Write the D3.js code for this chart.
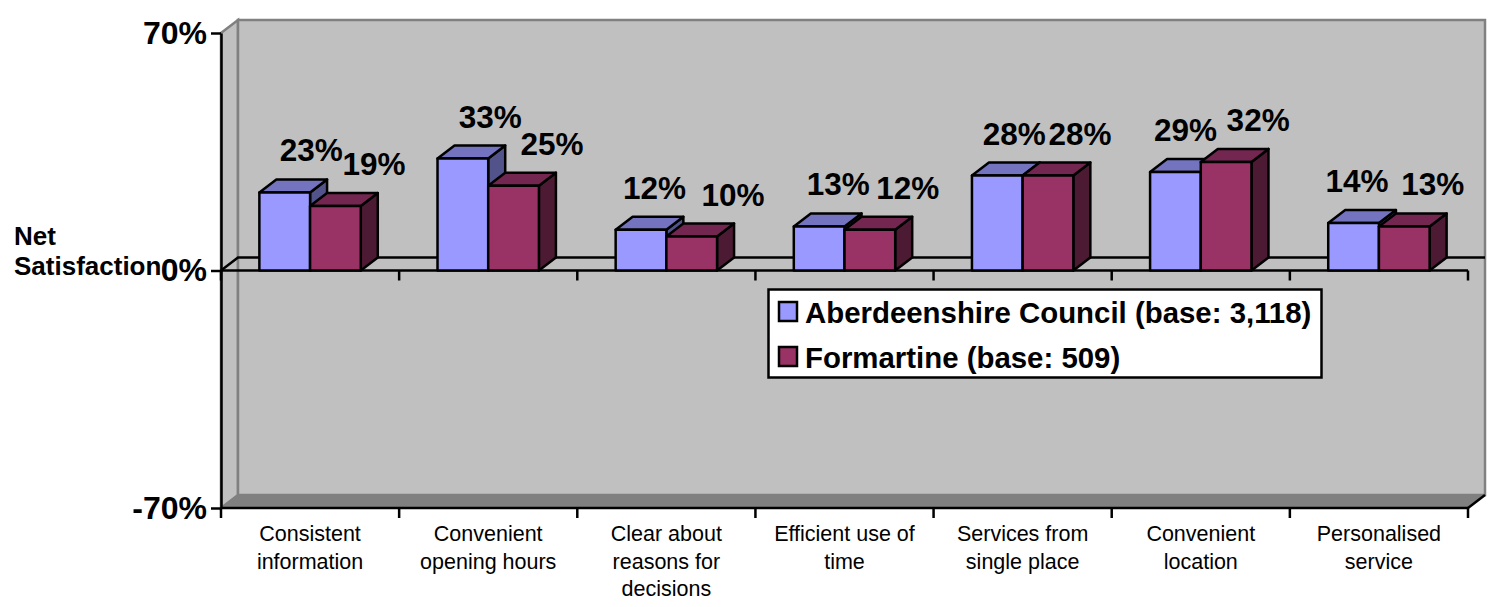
<!DOCTYPE html>
<html><head><meta charset="utf-8">
<style>html,body{margin:0;padding:0;background:#fff}svg{display:block}text{font-family:"Liberation Sans",Arial,sans-serif;fill:#000}</style>
<script src="https://cdn.jsdelivr.net/npm/d3@7"></script></head><body>
<script>
const categories=["Consistent\ninformation","Convenient\nopening hours","Clear about\nreasons for\ndecisions","Efficient use of\ntime","Services from\nsingle place","Convenient\nlocation","Personalised\nservice"];
const seriesNames=["Aberdeenshire Council (base: 3,118)","Formartine (base: 509)"];
const aberdeenshire=[23,33,12,13,28,29,14];
const formartine=[19,25,10,12,28,32,13];
const yTicks=[-70,0,70];
const labelNudgeA=[26.5,27.5,13.4,19,17,10,3.5];
const labelNudgeB=[38.5,38.5,41.4,38,32,32,28.5];

const W=1494,H=607,pL=221,pR=1468,pT=33,pB=508,depthX=17,depthY=-13,barW=50.7;
const svg=d3.select("body").append("svg").attr("width",W).attr("height",H);
const y=d3.scaleLinear().domain([-70,70]).range([pB,pT]);
const x=d3.scaleBand().domain(categories).range([pL,pR]);
const poly=p=>p.map(q=>q.join(",")).join(" ");
const wallGrey="#c0c0c0",edge="#808080";

// walls and floor
svg.append("polygon").attr("points",poly([[pL,pT],[pL+depthX,pT+depthY],[pL+depthX,pB+depthY],[pL,pB]])).attr("fill",wallGrey).attr("stroke",edge).attr("stroke-width",2.5);
svg.append("rect").attr("x",pL+depthX).attr("y",pT+depthY).attr("width",pR-pL).attr("height",pB-pT).attr("fill",wallGrey).attr("stroke",edge).attr("stroke-width",2.5);
svg.append("polygon").attr("points",poly([[pL,pB],[pL+depthX,pB+depthY],[pR+depthX,pB+depthY],[pR,pB]])).attr("fill",edge).attr("stroke",edge).attr("stroke-width",1);
svg.append("line").attr("x1",pR).attr("y1",pB).attr("x2",pR+depthX).attr("y2",pB+depthY).attr("stroke","#000").attr("stroke-width",2.5);

// zero plane
const y0=y(0);
svg.append("polyline").attr("points",poly([[pL,y0],[pL+depthX,y0+depthY],[pR+depthX,y0+depthY]])).attr("fill","none").attr("stroke","#000").attr("stroke-width",2.5);

// axes
const yAxis=d3.axisLeft(y).tickValues(yTicks).tickSize(10).tickSizeOuter(0).tickPadding(4).tickFormat(d=>d+"%");
const gy=svg.append("g").attr("transform",`translate(${pL},0)`).call(yAxis);
gy.selectAll("path").attr("stroke","#000").attr("stroke-width",2.5);
gy.selectAll("line").attr("stroke","#000").attr("stroke-width",2.5);
gy.selectAll("text").style("font-family",'"Liberation Sans",Arial,sans-serif').style("font-size","32px").style("font-weight","bold");

for(const yy of [y0,pB]){
  const g=svg.append("g");
  g.append("line").attr("x1",pL).attr("x2",pR).attr("y1",yy).attr("y2",yy).attr("stroke","#000").attr("stroke-width",2.5);
  const edges=categories.map(c=>x(c)).concat([pR]);
  g.selectAll("line.t").data(edges).join("line").attr("class","t").attr("x1",d=>d).attr("x2",d=>d).attr("y1",yy).attr("y2",yy+10).attr("stroke","#000").attr("stroke-width",2.5);
}

// category labels
categories.forEach(c=>{
  const t=svg.append("text").attr("text-anchor","middle").style("font-size","21.5px");
  c.split("\n").forEach((ln,i)=>t.append("tspan").attr("x",x(c)+x.bandwidth()/2).attr("y",541+i*27.5).text(ln));
});

// bars
const colours=[{f:"#9999ff",t:"#7373bf",s:"#53538c"},{f:"#993366",t:"#732650",s:"#4d1a33"}];
const stroke={stroke:"#000","stroke-width":2.5,"stroke-linejoin":"round"};
function part(g,pts,fill){const p=g.append("polygon").attr("points",poly(pts)).attr("fill",fill);for(const k in stroke)p.attr(k,stroke[k]);}
const series=[aberdeenshire,formartine];
categories.forEach((c,i)=>{
  const cx=x(c)+x.bandwidth()/2;
  series.forEach((vals,si)=>{
    const g=svg.append("g"),x0=cx+(si-1)*barW,x1=x0+barW,yt=y(vals[i]),col=colours[si];
    part(g,[[x1,yt],[x1+depthX,yt+depthY],[x1+depthX,y0+depthY],[x1,y0]],col.s);
    part(g,[[x0,yt],[x0+depthX,yt+depthY],[x1+depthX,yt+depthY],[x1,yt]],col.t);
    part(g,[[x0,yt],[x1,yt],[x1,y0],[x0,y0]],col.f);
  });
});
// data labels
categories.forEach((c,i)=>{
  const cx=x(c)+x.bandwidth()/2;
  series.forEach((vals,si)=>{
    const nudge=(si?labelNudgeB:labelNudgeA)[i];
    svg.append("text").attr("x",cx+(si-0.5)*barW+nudge).attr("y",y(vals[i])-31).attr("text-anchor","middle").style("font-size","31.5px").style("font-weight","bold").text(vals[i]+"%");
  });
});

// legend
svg.append("rect").attr("x",768.5).attr("y",289.5).attr("width",553).attr("height",88).attr("fill","#fff").attr("stroke","#000").attr("stroke-width",2.5);
seriesNames.forEach((n,i)=>{
  const ly=302+i*45;
  svg.append("rect").attr("x",779).attr("y",ly).attr("width",18).attr("height",19).attr("fill",colours[i].f).attr("stroke","#000").attr("stroke-width",2.5);
  svg.append("text").attr("x",805).attr("y",ly+20.5).style("font-size","29.4px").style("font-weight","bold").text(n);
});

// axis title
const ttl=svg.append("text").style("font-size","26px").style("font-weight","bold");
ttl.append("tspan").attr("x",14).attr("y",245).text("Net");
ttl.append("tspan").attr("x",14).attr("y",275).text("Satisfaction");
</script></body></html>
